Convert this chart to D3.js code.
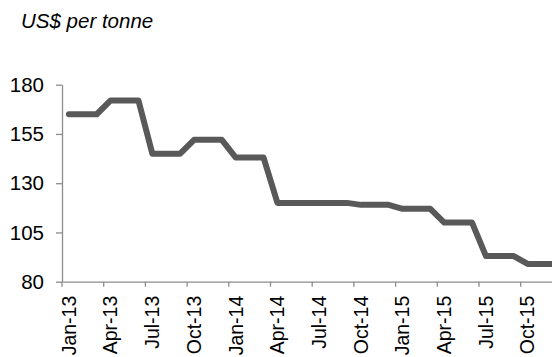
<!DOCTYPE html>
<html>
<head>
<meta charset="utf-8">
<script src="https://cdn.jsdelivr.net/npm/d3@7"></script>
<style>
  body { margin: 0; background: #fff; }
  svg { display: block; font-family: "Liberation Sans", Arial, sans-serif; }
</style>
</head>
<body>
<svg id="chart"></svg>
<script>
const months = [
  "Jan-13","Feb-13","Mar-13","Apr-13","May-13","Jun-13","Jul-13","Aug-13","Sep-13","Oct-13","Nov-13","Dec-13",
  "Jan-14","Feb-14","Mar-14","Apr-14","May-14","Jun-14","Jul-14","Aug-14","Sep-14","Oct-14","Nov-14","Dec-14",
  "Jan-15","Feb-15","Mar-15","Apr-15","May-15","Jun-15","Jul-15","Aug-15","Sep-15","Oct-15","Nov-15","Dec-15"
];
const price = [
  165, 165, 165, 172, 172, 172, 145, 145, 145, 152, 152, 152,
  143, 143, 143, 120, 120, 120, 120, 120, 120, 119, 119, 119,
  117, 117, 117, 110, 110, 110, 93, 93, 93, 89, 89, 89
];
const yTicks = [80, 105, 130, 155, 180];
const unitLabel = "US$ per tonne";

const width = 552, height = 357;
const margin = { top: 84.7, left: 62, bottom: 75.3 };
const monthW = 13.9;
const fontSize = 20.5;

const svg = d3.select("#chart").attr("width", width).attr("height", height);

const x = d3.scaleBand()
  .domain(months)
  .range([margin.left, margin.left + months.length * monthW])
  .padding(0);
const y = d3.scaleLinear()
  .domain([80, 180])
  .range([height - margin.bottom, margin.top]);

svg.append("text")
  .attr("x", 21)
  .attr("y", 28)
  .attr("font-size", fontSize)
  .attr("font-style", "italic")
  .attr("fill", "#000")
  .text(unitLabel);

// y axis
const yAxis = svg.append("g")
  .attr("transform", `translate(${margin.left},0)`)
  .call(d3.axisLeft(y).tickValues(yTicks).tickSize(6).tickSizeOuter(0).tickPadding(12));
yAxis.select(".domain").attr("stroke", "#8c8c8c").attr("stroke-width", 1.3);
yAxis.selectAll(".tick line").attr("stroke", "#8c8c8c").attr("stroke-width", 1.3);
yAxis.selectAll(".tick text").attr("font-size", fontSize).attr("fill", "#000")
  .attr("font-family", "Liberation Sans, Arial, sans-serif");

// x axis: ticks between categories, labels every third month
const labelled = months.filter((m, i) => i % 3 === 0);
const xAxis = svg.append("g")
  .attr("transform", `translate(0,${y(80)})`)
  .call(d3.axisBottom(x).tickValues(labelled).tickSize(5).tickSizeOuter(0));
xAxis.select(".domain").attr("stroke", "#8c8c8c").attr("stroke-width", 1.3);
xAxis.selectAll(".tick line")
  .attr("stroke", "#8c8c8c").attr("stroke-width", 1.3)
  .attr("transform", `translate(${-x.bandwidth() / 2},0)`);
xAxis.selectAll(".tick text")
  .attr("font-size", 19.5).attr("fill", "#000")
  .attr("font-family", "Liberation Sans, Arial, sans-serif")
  .attr("transform", "rotate(-90)")
  .attr("text-anchor", "end")
  .attr("x", -14)
  .attr("y", 0)
  .attr("dy", "0.35em");

// line
const line = d3.line()
  .x((d, i) => x(months[i]) + x.bandwidth() / 2)
  .y(d => y(d));

svg.append("path")
  .datum(price)
  .attr("fill", "none")
  .attr("stroke", "#595959")
  .attr("stroke-width", 6)
  .attr("stroke-linejoin", "round")
  .attr("stroke-linecap", "round")
  .attr("d", line);
</script>
</body>
</html>
